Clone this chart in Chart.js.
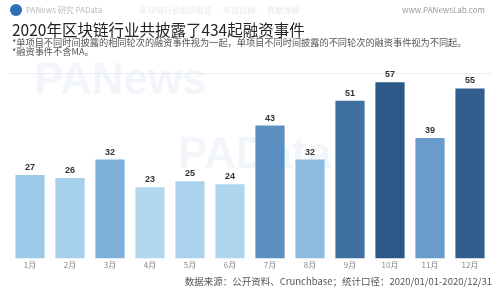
<!DOCTYPE html>
<html>
<head>
<meta charset="utf-8">
<script src="https://cdn.jsdelivr.net/npm/chart.js@4"></script>
<style>
html,body{margin:0;padding:0;background:#fff;}
#wrap{width:500px;height:300px;position:relative;}
</style>
</head>
<body>
<div id="wrap"><canvas id="c" width="500" height="300"></canvas></div>
<script>
const months = ['1月','2月','3月','4月','5月','6月','7月','8月','9月','10月','11月','12月'];
const deals = [27, 26, 32, 23, 25, 24, 43, 32, 51, 57, 39, 55];
const yTicks = [0, 60];
const titleText = '2020年区块链行业共披露了434起融资事件';
const noteLines = ['*单项目不同时间披露的相同轮次的融资事件视为一起，单项目不同时间披露的不同轮次的融资事件视为不同起。', '*融资事件不含MA。'];
const sourceText = '数据来源：公开资料、Crunchbase；统计口径：2020/01/01-2020/12/31';

const barColors = ['#9dc9e8','#a6cfeb','#7fb0d9','#b2d7ef','#aad2ec','#aed5ee','#5b8fc0','#8cbce0','#3f70a0','#2b5886','#6a9ccb','#315e8c'];
const FONT = '"Noto Sans CJK SC","Noto Sans",sans-serif';

const decor = {
  id: 'decor',
  beforeDraw(chart) {
    const ctx = chart.ctx;
    ctx.save();
    ctx.fillStyle = '#fff';
    ctx.fillRect(0, 0, 500, 300);
    // watermarks
    ctx.fillStyle = 'rgba(232,236,244,0.55)';
    ctx.font = 'bold 44px "Liberation Sans", sans-serif';
    ctx.textBaseline = 'alphabetic';
    ctx.textAlign = 'left';
    ctx.fillText('PANews', 34, 94);
    ctx.fillText('PAData', 178, 168);
    // faint lines
    ctx.strokeStyle = 'rgba(228,232,240,0.8)';
    ctx.lineWidth = 1;
    ctx.beginPath();
    ctx.moveTo(8, 73.5); ctx.lineTo(492, 73.5);
    ctx.stroke();
    // header
    ctx.fillStyle = '#2f6fb5';
    ctx.beginPath(); ctx.arc(16, 10, 6, 0, Math.PI * 2); ctx.fill();
    ctx.fillStyle = '#b9b9b9';
    ctx.font = '8px ' + FONT;
    ctx.textBaseline = 'middle';
    ctx.fillText('PANews 研究 PAData', 26, 10);
    ctx.fillStyle = '#e8e8e8';
    ctx.fillText('区块链行业融资报告 · 年度回顾 · 数据周报', 140, 10);
    ctx.fillStyle = '#9a9a9a';
    ctx.fillText('www.PANewsLab.com', 402, 10);
    // title
    ctx.fillStyle = '#222';
    ctx.font = '15.5px ' + FONT;
    ctx.textBaseline = 'middle';
    ctx.fillText(titleText, 12, 30);
    ctx.fillStyle = '#555';
    ctx.font = '9.2px ' + FONT;
    ctx.fillText(noteLines[0], 12, 43);
    ctx.fillText(noteLines[1], 12, 52);
    ctx.restore();
  },
  afterDatasetsDraw(chart) {
    const ctx = chart.ctx;
    const meta = chart.getDatasetMeta(0);
    ctx.save();
    ctx.fillStyle = '#333';
    ctx.font = 'bold 9px "Liberation Sans", sans-serif';
    ctx.textAlign = 'center';
    ctx.textBaseline = 'bottom';
    meta.data.forEach((bar, i) => {
      ctx.fillText(String(deals[i]), bar.x, bar.y - 3);
    });
    ctx.fillStyle = '#555';
    ctx.font = '9.5px ' + FONT;
    ctx.textAlign = 'right';
    ctx.textBaseline = 'middle';
    ctx.fillText(sourceText, 492, 281);
    ctx.restore();
  }
};

new Chart(document.getElementById('c'), {
  type: 'bar',
  data: {
    labels: months,
    datasets: [{
      data: deals,
      backgroundColor: barColors,
      borderWidth: 0,
      barPercentage: 0.73,
      categoryPercentage: 1.0
    }]
  },
  options: {
    responsive: false,
    animation: false,
    devicePixelRatio: 1,
    layout: { padding: { left: 10, right: 10, top: 73, bottom: 28 } },
    plugins: { legend: { display: false }, title: { display: false }, tooltip: { enabled: false } },
    scales: {
      x: {
        grid: { display: false, drawTicks: false },
        border: { display: false },
        ticks: { color: '#888', font: { size: 8, family: FONT }, padding: 2, maxRotation: 0 }
      },
      y: {
        display: false,
        min: yTicks[0],
        max: yTicks[1]
      }
    }
  },
  plugins: [decor]
});
</script>
</body>
</html>
